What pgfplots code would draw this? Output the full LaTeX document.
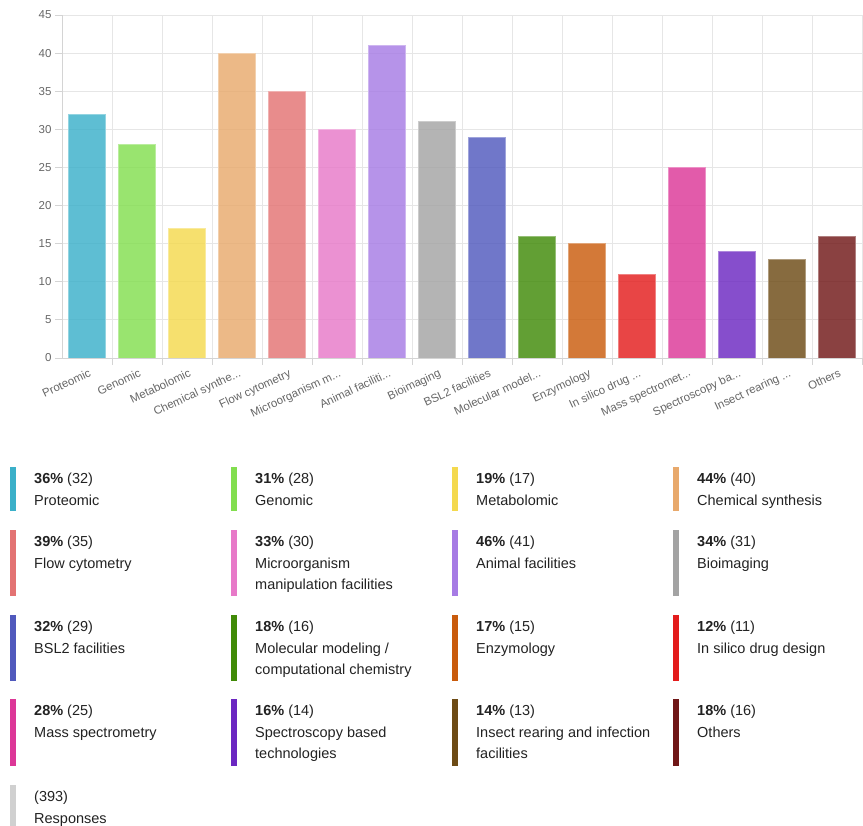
\documentclass[border=0pt]{standalone}
\usepackage{fontspec}
\setmainfont{Liberation Sans}
\usepackage{pgfplots}
\pgfplotsset{compat=1.18}

% series colours
\definecolor{cProt}{HTML}{3BB0C9}
\definecolor{cGeno}{HTML}{82DE4F}
\definecolor{cMeta}{HTML}{F4D94E}
\definecolor{cChem}{HTML}{E8A96C}
\definecolor{cFlow}{HTML}{E37373}
\definecolor{cMicr}{HTML}{E779C8}
\definecolor{cAnim}{HTML}{A67BE4}
\definecolor{cBioi}{HTML}{A3A3A3}
\definecolor{cBSL}{HTML}{5059BD}
\definecolor{cMole}{HTML}{408A07}
\definecolor{cEnzy}{HTML}{C95B0C}
\definecolor{cSili}{HTML}{E31C1C}
\definecolor{cMass}{HTML}{DC3797}
\definecolor{cSpec}{HTML}{6B27C1}
\definecolor{cInse}{HTML}{6D4B15}
\definecolor{cOthe}{HTML}{701717}
\definecolor{cResp}{HTML}{D0D0D0}
\definecolor{gridgray}{HTML}{E6E6E6}
\definecolor{axisgray}{HTML}{D4D4D4}
\definecolor{labelgray}{HTML}{666666}
\definecolor{legtext}{HTML}{222222}

% truncation mark for long category names
\newcommand\el{{.}{.}{.}}

\pgfplotsset{
  onebar/.style={fill=#1, fill opacity=0.82, draw=#1!55!white, line width=0.8pt, bar shift=0pt}
}

% legend entry: x, top, height, colour, first line, name line 1, name line 2
\newcommand\legitem[7]{%
  \fill[#4] (#1pt,-#2pt) rectangle ++(5.5pt,-#3pt);
  \begin{scope}[every node/.style={anchor=base west, inner sep=0pt, text=legtext,
        font=\fontsize{14.5}{17}\selectfont}]
    \node at (#1pt+24pt,-#2pt-16.5pt) {#5};
    \node at (#1pt+24pt,-#2pt-38pt) {#6};
    \node at (#1pt+24pt,-#2pt-59.5pt) {#7};
  \end{scope}
}

\begin{document}
\begin{tikzpicture}
\useasboundingbox (0pt,0pt) rectangle (863pt,-826pt);
\begin{axis}[
  at={(62pt,-358pt)}, anchor=south west,
  width=800pt, height=343pt, scale only axis,
  xmin=-0.5, xmax=15.5, ymin=0, ymax=45,
  axis x line=bottom, axis y line=left,
  axis line style={-, draw=axisgray, line width=0.8pt},
  tick align=outside, major tick length=7pt, minor tick length=7pt,
  tick style={draw=axisgray, line width=0.8pt},
  xtick={0,...,15},
  major x tick style={draw=none},
  minor xtick={0.5,1.5,...,15.5},
  xminorgrids=true, ymajorgrids=true,
  grid style={draw=gridgray, line width=0.8pt},
  minor grid style={draw=gridgray, line width=0.8pt},
  ytick={0,5,...,45},
  xticklabels={Proteomic, Genomic, Metabolomic, Chemical synthe\el, Flow cytometry,
    Microorganism m\el, Animal faciliti\el, Bioimaging, BSL2 facilities,
    Molecular model\el, Enzymology, In silico drug \el, Mass spectromet\el,
    Spectroscopy ba\el, Insect rearing \el, Others},
  xticklabel style={rotate=25, anchor=north east, text=labelgray,
    font=\fontsize{11.5}{12}\selectfont, xshift=3pt, yshift=0pt},
  yticklabel style={text=labelgray, font=\fontsize{11.5}{12}\selectfont},
  /pgf/number format/assume math mode=true,
  ybar, bar width=0.74,
]
\addplot[onebar=cProt] coordinates {(0,32)};
\addplot[onebar=cGeno] coordinates {(1,28)};
\addplot[onebar=cMeta] coordinates {(2,17)};
\addplot[onebar=cChem] coordinates {(3,40)};
\addplot[onebar=cFlow] coordinates {(4,35)};
\addplot[onebar=cMicr] coordinates {(5,30)};
\addplot[onebar=cAnim] coordinates {(6,41)};
\addplot[onebar=cBioi] coordinates {(7,31)};
\addplot[onebar=cBSL]  coordinates {(8,29)};
\addplot[onebar=cMole] coordinates {(9,16)};
\addplot[onebar=cEnzy] coordinates {(10,15)};
\addplot[onebar=cSili] coordinates {(11,11)};
\addplot[onebar=cMass] coordinates {(12,25)};
\addplot[onebar=cSpec] coordinates {(13,14)};
\addplot[onebar=cInse] coordinates {(14,13)};
\addplot[onebar=cOthe] coordinates {(15,16)};
\end{axis}

% legend grid
\legitem{10}{467}{44}{cProt}{\textbf{36\%} (32)}{Proteomic}{}
\legitem{231}{467}{44}{cGeno}{\textbf{31\%} (28)}{Genomic}{}
\legitem{452}{467}{44}{cMeta}{\textbf{19\%} (17)}{Metabolomic}{}
\legitem{673}{467}{44}{cChem}{\textbf{44\%} (40)}{Chemical synthesis}{}

\legitem{10}{530}{66}{cFlow}{\textbf{39\%} (35)}{Flow cytometry}{}
\legitem{231}{530}{66}{cMicr}{\textbf{33\%} (30)}{Microorganism}{manipulation facilities}
\legitem{452}{530}{66}{cAnim}{\textbf{46\%} (41)}{Animal facilities}{}
\legitem{673}{530}{66}{cBioi}{\textbf{34\%} (31)}{Bioimaging}{}

\legitem{10}{615}{66}{cBSL}{\textbf{32\%} (29)}{BSL2 facilities}{}
\legitem{231}{615}{66}{cMole}{\textbf{18\%} (16)}{Molecular modeling /}{computational chemistry}
\legitem{452}{615}{66}{cEnzy}{\textbf{17\%} (15)}{Enzymology}{}
\legitem{673}{615}{66}{cSili}{\textbf{12\%} (11)}{In silico drug design}{}

\legitem{10}{699}{67}{cMass}{\textbf{28\%} (25)}{Mass spectrometry}{}
\legitem{231}{699}{67}{cSpec}{\textbf{16\%} (14)}{Spectroscopy based}{technologies}
\legitem{452}{699}{67}{cInse}{\textbf{14\%} (13)}{Insect rearing and infection}{facilities}
\legitem{673}{699}{67}{cOthe}{\textbf{18\%} (16)}{Others}{}

\legitem{10}{785}{41}{cResp}{(393)}{Responses}{}
\end{tikzpicture}
\end{document}
